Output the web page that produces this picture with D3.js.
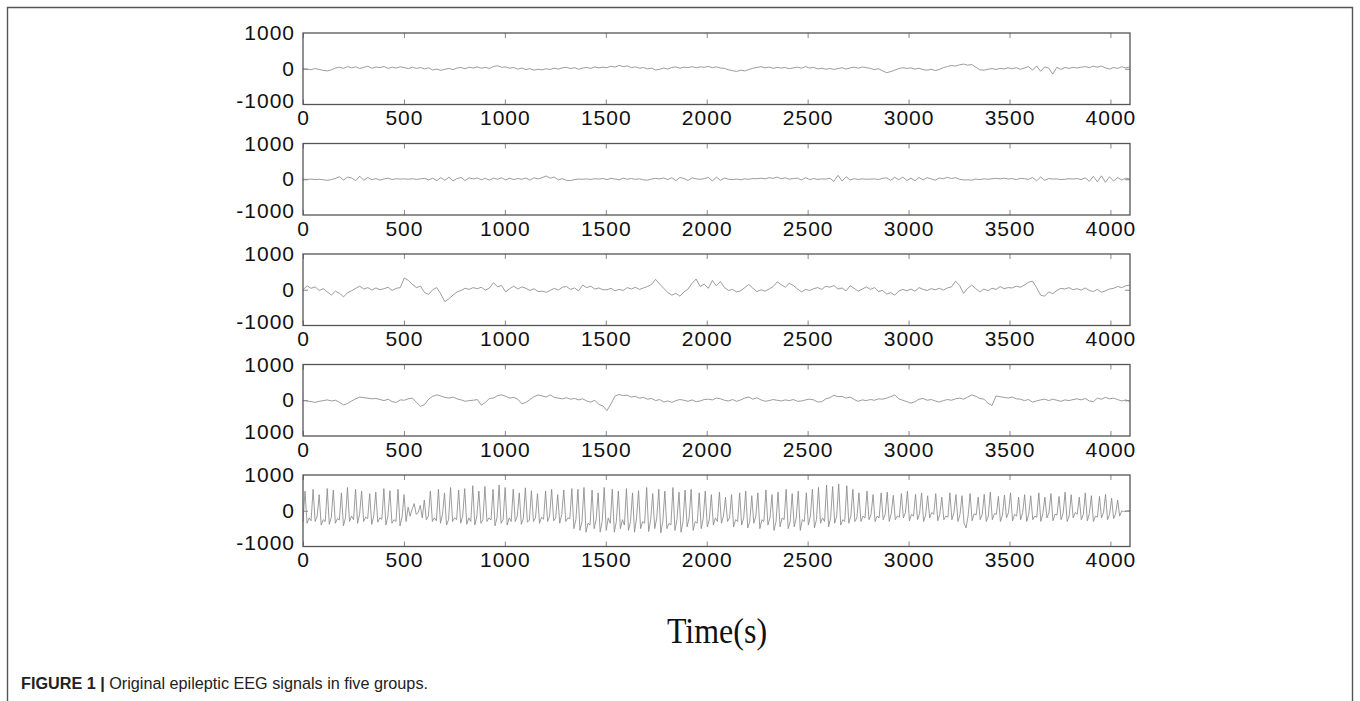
<!DOCTYPE html>
<html>
<head>
<meta charset="utf-8">
<script src="https://cdn.jsdelivr.net/npm/d3@7"></script>
<style>
  body { margin: 0; background: #fff; }
  svg { display: block; }
</style>
</head>
<body>
<div id="eeg_chart"></div>
<script>
// Five EEG groups (one value per ~20 samples, ~10 for the seizure trace)
const seriesA = [
  0, -10, -25, 5, -20, -45, -60, -30, 20, 45, 10, 60, 25, 55, 5, 40, 70, 15, 50, 30, 65, 10, 45, 20, 55,
  30, 5, 45, 10, 35, -5, 25, -35, -10, -45, -15, 10, -25, 20, 35, 0, 45, 20, 50, 15, 40, 10, 60, 85, 40,
  50, 15, 35, -10, 20, -25, 5, -40, -15, -30, 0, -20, 15, -10, 25, 40, 5, 30, -15, 20, 35, 10, 50, 25, 45,
  30, 70, 45, 95, 60, 80, 30, 55, 15, 35, -5, 20, -35, -15, 20, -10, 35, 50, 15, 45, 30, 60, 25, 55, 40,
  65, 30, 55, 20, 10, -30, -55, -75, -40, -60, -20, 15, 35, 60, 25, 50, 10, 40, 20, 35, 0, 25, 45, 15, 60,
  20, 40, -5, 15, -15, 10, -20, 5, 30, -10, 25, 45, 15, 50, 30, 10, -25, 0, -60, -110, -80, -40, 5, 30, 10,
  25, -10, 15, -25, -40, -15, -50, -20, 30, 65, 90, 75, 110, 130, 100, 120, 45, -30, -40, -15, 5, -20, 10, -5, 25,
  0, 30, -15, 20, 60, -40, 80, -70, 50, 20, -150, 40, -20, 35, 10, 40, 20, 45, 60, 30, 70, 45, 75, 25, -10,
  35, 10, 55, 25, 50
];

const seriesB = [
  0, -5, 5, -10, 0, -15, -30, -10, 25, 70, -20, 60, 35, -40, 85, -30, 50, -15, 20, -25, 10, 30, -10, 15, 5,
  10, 0, 15, -5, 10, 25, -20, 30, -40, 45, -30, 55, -45, 20, 50, -35, 40, 10, 35, -15, 25, -25, 30, 0, 40,
  -20, 30, -10, 20, 0, 35, -25, 40, 10, 45, 90, 30, 60, -15, 15, -30, -35, -10, 5, 0, 10, -5, 15, 5, 20,
  -10, 25, 5, -15, 30, 0, 20, -5, 15, -20, -25, 5, 25, 10, 35, -10, 45, -40, 50, 20, -35, 40, 10, 0, 15,
  50, -45, 60, -30, 35, 0, -10, 5, -15, 10, 0, 20, 15, 30, 10, 45, 25, 60, 15, 40, 0, 20, 30, -20, 45,
  -10, 20, -5, 10, 5, 30, -60, 110, -50, 70, -20, 15, -5, 10, 0, 5, 10, -10, 25, 40, -30, 55, -15, 60, -35,
  30, -40, 50, -20, 45, 10, -25, 35, 15, 55, 20, 45, 0, -20, -15, -25, 5, -10, 10, 0, 15, 25, 10, 30, 5,
  20, -10, 25, 15, -5, 50, -45, 60, -30, 20, 5, 10, -10, 0, 15, 5, 20, -10, 40, -60, 80, -70, 95, -85, 70,
  -50, 45, -20, 30, 10
];

const seriesC = [
  0, 110, 40, 80, -20, 30, -60, -150, -40, -100, -200, -80, -30, 40, 100, 20, 60, -10, 50, 0, 30, 70, -20, 40, 60,
  330, 260, 150, 60, 100, -80, -130, 0, 60, -120, -330, -250, -150, -60, -20, 40, 10, 60, 30, 70, -10, 50, 200, 80, 120,
  -60, 30, 100, 20, 80, 40, -20, 30, -50, -40, -70, -20, 40, -10, 70, 90, 10, 50, -30, 130, 60, 100, 20, 50, 0,
  0, 40, -30, 10, -20, 60, 20, 70, 10, 50, 90, 150, 290, 160, 40, -80, -150, -100, -180, -60, 20, 180, 300, 90, 160,
  40, 260, 110, 230, 60, -20, 10, -60, -30, 60, 150, 40, -50, 0, -40, 20, 90, 220, 140, 70, 180, 120, 20, -60, 10,
  -20, 30, 60, 10, 100, 70, 120, 20, 50, -30, 110, 40, -40, 20, 80, 10, 60, -50, -20, -120, -80, -150, -40, 10, -30,
  20, -40, 60, 10, -20, 30, 0, 40, -10, 50, 80, 240, 120, -100, 40, 130, 30, -60, 20, -30, 40, 10, 90, 30, 60,
  50, 100, 70, 130, 210, 240, 60, -150, -180, -60, -110, -20, 40, 20, 60, 0, 30, -10, 50, -20, -50, 10, -70, -30, 20,
  40, 90, 60, 110, 130
];

const seriesD = [
  0, -20, -40, -60, -30, -10, 10, -20, 0, -60, -130, -90, -20, 40, 90, 70, 60, 40, 50, 20, -10, 30, -40, -60, 10,
  0, 40, 60, -60, -170, -120, 30, 110, 150, 120, 80, 60, 90, 40, 10, -30, -10, 0, 20, -140, -60, 50, 60, 130, 150,
  110, 60, 80, 30, -100, -60, 20, 100, 150, 120, 90, 150, 80, 60, 40, 70, 30, 50, 10, 40, -20, -50, 0, -120, -160,
  -290, -100, 120, 160, 130, 140, 90, 110, 60, 80, 30, 50, -10, 20, -50, -20, -60, -10, 20, 0, -30, 10, -40, -20, 20,
  30, 10, 60, 40, 0, -20, 20, -30, 10, 60, 90, 30, 70, 10, -30, -10, 20, 0, -20, 10, -10, 20, -30, -20, 10,
  30, 10, -50, -40, 40, 70, 140, 100, 110, 60, 90, 20, -30, 10, -10, 20, 0, 40, 30, 60, 100, 150, 40, 0, -40,
  -80, -40, 30, 50, 0, 20, -20, -50, -10, 20, 0, 40, 60, 30, 90, 150, 110, 50, 30, -80, -150, 120, 100, 80, 60,
  90, 40, 30, -10, 20, -50, -20, 10, 30, -10, 30, 0, -30, 10, -10, 20, 40, 10, 50, -20, -40, 60, 30, 80, 40,
  60, 20, -20, 10, -30
];

const seriesE = [
  -300, 550, -350, -200, -280, 600, -300, -150, 450, -400, -250, -300, 620, -380, -180, 580, -350, -220, -260, 500,
  -420, -200, 650, -300, -150, -250, 600, -350, -100, 550, -300, -180, -220, 480, -380, -150, 520, -320, -200, -240,
  620, -400, -150, 560, -350, -250, -300, 600, -420, -180, 450, -300, 100, -150, 50, 200, -100, -50, 150, -200,
  300, -250, -150, 550, -300, -200, -280, 600, -350, -100, 500, -400, -250, 650, -300, -200, -250, 580, -350, -150,
  620, -380, -200, -300, 700, -400, -150, 550, -350, -250, 680, -300, -200, -260, 600, -420, -180, 720, -350, -250,
  650, -400, -200, -300, 600, -300, -150, 500, -380, -220, 640, -320, -260, 560, -300, -200, 480, -350, -180, -240,
  550, -300, -150, 600, -280, -200, 450, -350, -100, 580, -300, -200, -220, 620, -500, -250, 600, -550, -300, 650,
  -600, -350, -400, 580, -500, -250, 500, -600, -300, 650, -550, -200, -350, 600, -600, -300, 550, -500, -250, -400,
  620, -550, -300, 500, -600, -200, 560, -500, -300, -350, 650, -580, -250, 480, -500, -200, 600, -620, -300, 550,
  -500, -350, -400, 650, -550, -250, 520, -600, -300, 580, -450, -200, 600, -550, -300, -350, 500, -500, -200, 550,
  -450, -250, 450, -400, -200, -300, 520, -350, -150, 380, -300, -200, 450, -450, -250, -300, 500, -400, -200, 550,
  -480, -300, 420, -350, -150, 500, -500, -250, -300, 580, -400, -200, 450, -550, -300, 520, -450, -200, -250, 600,
  -500, -300, 480, -450, -200, 550, -550, -250, -300, 500, -400, -150, 600, -480, -250, 650, -350, -200, -300, 720,
  -450, -200, 680, -350, -150, 750, -400, -250, -300, 700, -350, -150, 600, -300, -200, 500, -300, -150, -200, 550,
  -250, -100, 450, -300, -150, -200, 500, -250, -100, 520, -300, -80, 430, -250, -150, -180, 480, -200, -50, 550,
  -280, -100, -150, 460, -250, -80, 500, -300, -120, 420, -200, -50, -100, 480, -280, -100, 380, -250, -150, -180,
  500, -250, -50, 450, -300, -100, 420, -350, -480, -150, 480, -280, -80, -120, 380, -250, -100, 460, -300, -150,
  520, -250, -80, -100, 400, -300, -120, 440, -200, -50, 500, -280, -100, -150, 380, -250, -50, 450, -300, -100,
  420, -250, -150, -180, 500, -300, -80, 380, -200, -50, 480, -280, -100, -120, 400, -250, -80, 520, -300, -150,
  450, -200, -50, -100, 380, -250, -100, 500, -280, -80, 420, -300, -150, -180, 400, -200, -50, 460, -250, -100,
  350, -220, -80, 300, -150, 0, -20, -10, 0, 0
];

const groups = [seriesA, seriesB, seriesC, seriesD, seriesE];
const sampleCount = 4097;

// Tick values and labels (panel 4 prints "1000" at the bottom in the original)
const xTickValues = [0, 500, 1000, 1500, 2000, 2500, 3000, 3500, 4000];
const yTickValues = [1000, 0, -1000];
const yTickLabels = [
  ["1000", "0", "-1000"],
  ["1000", "0", "-1000"],
  ["1000", "0", "-1000"],
  ["1000", "0", "1000"],
  ["1000", "0", "-1000"]
];
const xAxisTitle = "Time(s)";
const captionBold = "FIGURE 1 | ";
const captionText = "Original epileptic EEG signals in five groups.";

// Layout
const width = 1360, height = 701;
const plotLeft = 303, plotRight = 1130;
const panelTop = 33, panelPitch = 110.5, panelHeight = 71.5;

const svg = d3.select("#eeg_chart")
  .append("svg")
  .attr("width", width)
  .attr("height", height);

svg.append("rect").attr("width", width).attr("height", height).attr("fill", "#fff");

// Page frame around the figure
svg.append("path")
  .attr("d", "M7.5,720 V7.5 H1352.5 V720")
  .attr("fill", "none")
  .attr("stroke", "#555")
  .attr("stroke-width", 1.4);

const x = d3.scaleLinear().domain([0, sampleCount]).range([plotLeft, plotRight]);
const labelFont = "'Liberation Sans', Arial, Helvetica, sans-serif";

groups.forEach((values, k) => {
  const top = panelTop + k * panelPitch;
  const y = d3.scaleLinear().domain([-1000, 1000]).range([top + panelHeight, top]);
  const step = (sampleCount - 1) / (values.length - 1);

  const g = svg.append("g");

  // Signal trace
  const line = d3.line()
    .x((d, i) => x(i * step))
    .y(d => y(d));

  g.append("path")
    .datum(values)
    .attr("d", line)
    .attr("fill", "none")
    .attr("stroke", "#8a8a8a")
    .attr("stroke-width", 0.85)
    .attr("stroke-linejoin", "round");

  // Inner ticks on top and bottom edges
  g.append("g")
    .attr("transform", `translate(0,${top + panelHeight})`)
    .call(d3.axisTop(x).tickValues(xTickValues).tickSize(5).tickFormat(""))
    .call(a => a.select(".domain").remove())
    .selectAll("line").attr("stroke", "#888");

  g.append("g")
    .attr("transform", `translate(0,${top})`)
    .call(d3.axisBottom(x).tickValues(xTickValues).tickSize(5).tickFormat(""))
    .call(a => a.select(".domain").remove())
    .selectAll("line").attr("stroke", "#888");

  // Inner ticks at 0 on left and right edges
  g.append("g")
    .attr("transform", `translate(${plotLeft},0)`)
    .call(d3.axisRight(y).tickValues([0]).tickSize(5).tickFormat(""))
    .call(a => a.select(".domain").remove())
    .selectAll("line").attr("stroke", "#888");

  g.append("g")
    .attr("transform", `translate(${plotRight},0)`)
    .call(d3.axisLeft(y).tickValues([0]).tickSize(5).tickFormat(""))
    .call(a => a.select(".domain").remove())
    .selectAll("line").attr("stroke", "#888");

  // Box
  g.append("rect")
    .attr("x", plotLeft)
    .attr("y", top)
    .attr("width", plotRight - plotLeft)
    .attr("height", panelHeight)
    .attr("fill", "none")
    .attr("stroke", "#555")
    .attr("stroke-width", 1.3);

  // X tick labels
  const xAxis = g.append("g")
    .attr("transform", `translate(0,${top + panelHeight})`)
    .call(d3.axisBottom(x).tickValues(xTickValues).tickSize(0).tickPadding(6).tickFormat(d3.format("d")));
  xAxis.select(".domain").remove();
  xAxis.selectAll("text")
    .attr("fill", "#111")
    .style("font-family", labelFont)
    .style("font-size", "21px")
    .style("letter-spacing", "1px");

  // Y tick labels
  const yAxis = g.append("g")
    .attr("transform", `translate(${plotLeft},0)`)
    .call(d3.axisLeft(y).tickValues(yTickValues).tickSize(0).tickPadding(8)
      .tickFormat((d, i) => yTickLabels[k][i]));
  yAxis.select(".domain").remove();
  yAxis.selectAll("text")
    .attr("fill", "#111")
    .attr("dy", d => d === -1000 ? "0.12em" : "0.32em")
    .style("font-family", labelFont)
    .style("font-size", "21px")
    .style("letter-spacing", "1px");
});

// Axis title
svg.append("text")
  .attr("transform", "translate(717,643) scale(1,1.12)")
  .attr("text-anchor", "middle")
  .attr("fill", "#111")
  .style("font-family", "'Liberation Serif', 'Times New Roman', serif")
  .style("font-size", "32px")
  .text(xAxisTitle);

// Figure caption
const caption = svg.append("text")
  .attr("x", 21)
  .attr("y", 689)
  .attr("fill", "#222")
  .attr("textLength", 407)
  .attr("lengthAdjust", "spacingAndGlyphs")
  .style("font-family", "'Liberation Sans Narrow', 'Liberation Sans', Arial, sans-serif")
  .style("font-size", "16px");

caption.append("tspan").style("font-weight", "bold").text(captionBold);
caption.append("tspan").text(captionText);
</script>
</body>
</html>
